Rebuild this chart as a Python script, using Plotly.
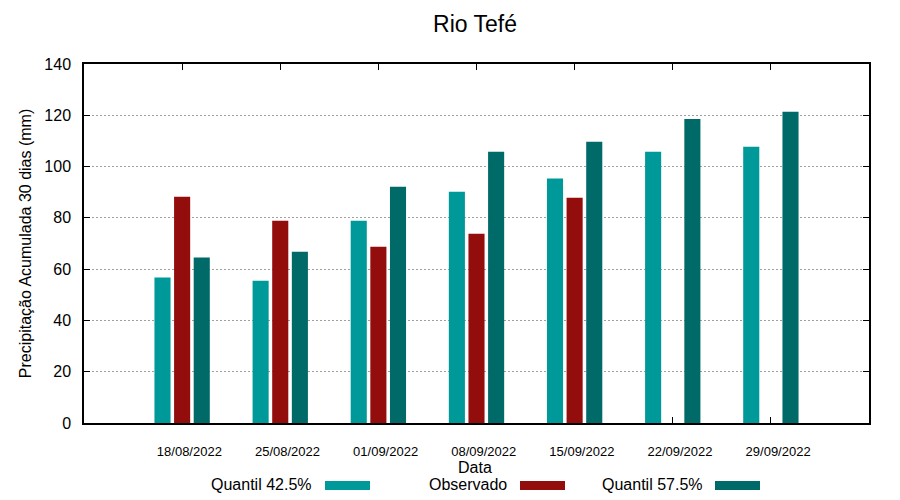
import plotly.graph_objects as go

dates = ["18/08/2022", "25/08/2022", "01/09/2022", "08/09/2022",
         "15/09/2022", "22/09/2022", "29/09/2022"]
q425 = [56.7, 55.5, 78.9, 90.2, 95.3, 105.8, 107.7]
observado = [88.2, 78.9, 68.7, 73.8, 87.8, None, None]
q575 = [64.5, 66.8, 92.1, 105.8, 109.7, 118.6, 121.4]
series_names = ["Quantil 42.5%", "Observado", "Quantil 57.5%"]
colors = ["#009999", "#940d0d", "#006a68"]
y_ticks = [0, 20, 40, 60, 80, 100, 120, 140]

W, H = 900, 500
L, R, T, B = 84, 869, 64, 423
FONT = "Liberation Sans, Arial, sans-serif"

xs = list(range(len(dates)))
fig = go.Figure()
for name, vals, col in zip(series_names, [q425, observado, q575], colors):
    fig.add_trace(go.Bar(x=xs, y=vals, name=name, marker_color=col,
                         marker_line_width=0, showlegend=False))

def px_x(p):
    return (p - L) / (R - L)

def px_y(p):
    return (B - p) / (B - T)

# manual legend: text then swatch
legend_text_right = [314, 509, 705]
legend_sw = [(325, 370), (520, 565), (715, 760)]
for name, col, tr, (s0, s1) in zip(series_names, colors, legend_text_right, legend_sw):
    fig.add_annotation(x=px_x(tr), y=px_y(484), xref="paper", yref="paper",
                       text=name, showarrow=False, xanchor="right", yanchor="middle",
                       font=dict(size=16, color="black", family=FONT))
    fig.add_shape(type="rect", xref="paper", yref="paper",
                  x0=px_x(s0), x1=px_x(s1), y0=px_y(490), y1=px_y(481),
                  fillcolor=col, line_width=0)

# x-axis title
fig.add_annotation(x=px_x(475), y=px_y(468), xref="paper", yref="paper",
                   text="Data", showarrow=False, xanchor="center", yanchor="middle",
                   font=dict(size=16, color="black", family=FONT))

pad = "\u00a0" * 4
fig.update_layout(
    width=W, height=H,
    margin=dict(l=L, r=W - R, t=T, b=H - B, pad=0, autoexpand=False),
    paper_bgcolor="white", plot_bgcolor="white",
    barmode="group", bargap=0.4, bargroupgap=0.18,
    font=dict(family=FONT, color="black"),
    title=dict(text="Rio Tefé", x=px_x(475), xref="paper", y=1 - 24 / H,
               yref="container", yanchor="middle", xanchor="center",
               automargin=False,
               font=dict(size=23, color="black", family=FONT)),
    xaxis=dict(range=[-1, 7], tickmode="array", tickvals=xs,
               ticktext=[pad + d for d in dates],
               ticks="inside", ticklen=6, tickwidth=1, tickcolor="black",
               showline=True, linecolor="black", linewidth=1.5, mirror="ticks",
               showgrid=False, zeroline=False, ticklabelstandoff=16,
               automargin=False,
               tickfont=dict(size=13, color="black", family=FONT),
               layer="below traces"),
    yaxis=dict(range=[0, 140], tickmode="array", tickvals=y_ticks,
               ticks="inside", ticklen=6, tickwidth=1, tickcolor="black",
               showline=True, linecolor="black", linewidth=1.5, mirror="ticks",
               showgrid=True, gridcolor="#a0a0a0", gridwidth=1,
               griddash="2px,2px", zeroline=False, ticklabelstandoff=8,
               automargin=False,
               tickfont=dict(size=16, color="black", family=FONT),
               title=dict(text="Precipitação Acumulada 30 dias (mm)", standoff=9,
                          font=dict(size=16, color="black", family=FONT))),
)

fig.write_html("out.html", config={"displayModeBar": False},
               post_script="document.body.style.margin='0';document.body.style.padding='0';")
